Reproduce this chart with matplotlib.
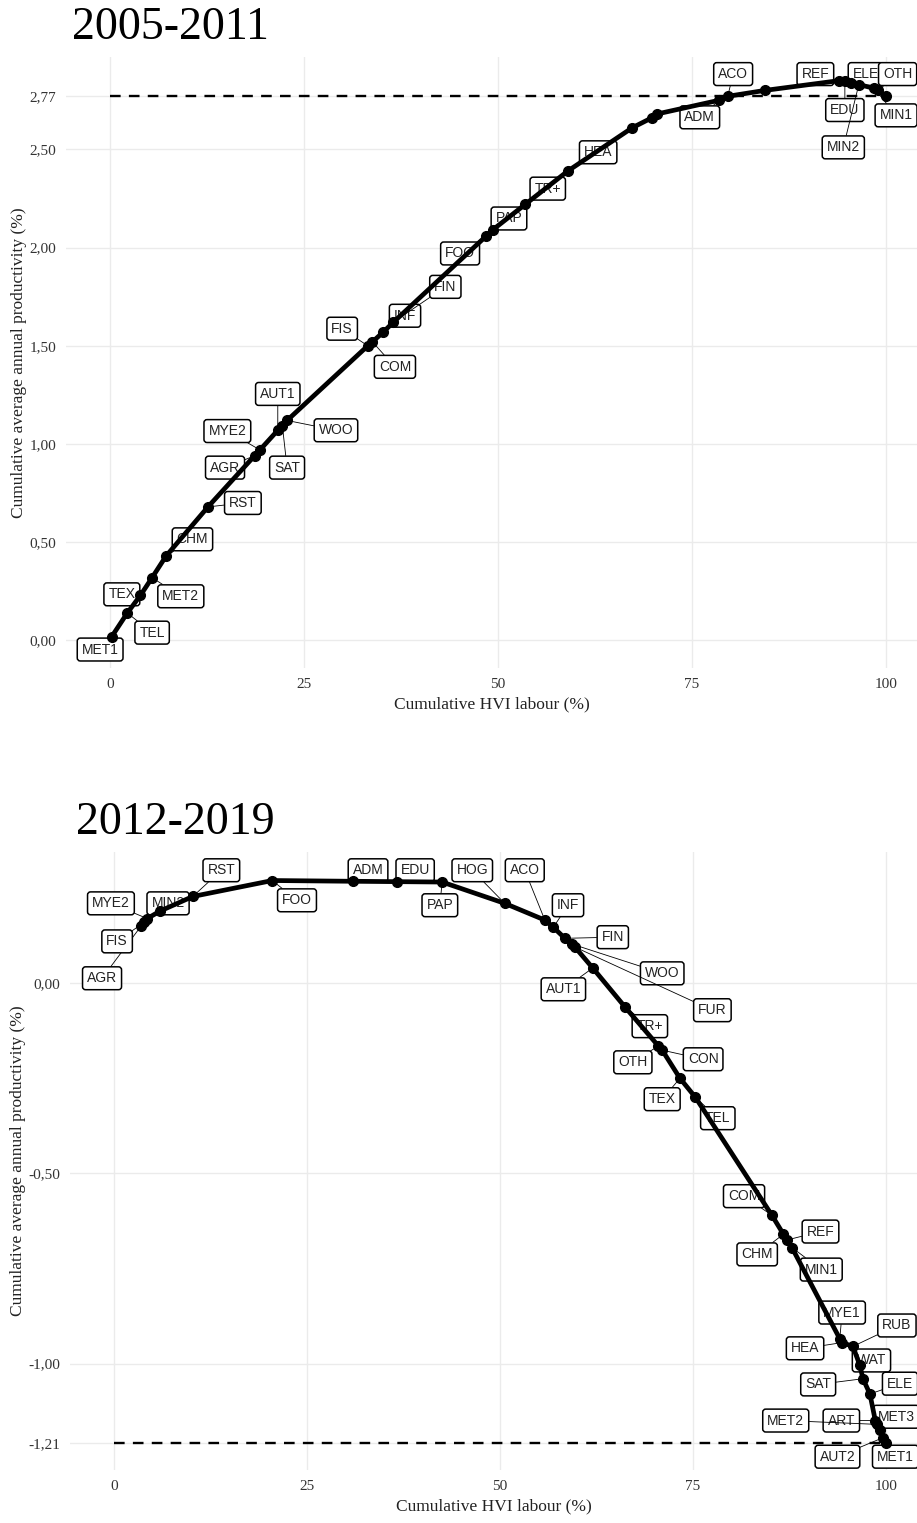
import matplotlib
matplotlib.use("Agg")
import matplotlib.pyplot as plt

# ---- 2005-2011 ----
top_x = [0.2, 2.2, 3.9, 5.4, 7.2, 12.6, 18.6, 19.3, 21.6, 22.2, 22.8, 33.2, 33.8, 35.2,
         36.5, 48.5, 49.3, 53.5, 59.0, 67.3, 69.8, 70.5, 78.5, 79.6, 84.4, 94.0,
         94.7, 95.5, 96.5, 98.5, 99.0, 100.0]
top_y = [0.02, 0.14, 0.23, 0.32, 0.43, 0.68, 0.94, 0.97, 1.07, 1.09, 1.12, 1.50, 1.52, 1.57,
         1.62, 2.06, 2.09, 2.22, 2.39, 2.61, 2.66, 2.68, 2.75, 2.77, 2.80, 2.85,
         2.85, 2.84, 2.83, 2.81, 2.80, 2.77]
top_lab = ["MET1", "TEL", "TEX", "MET2", "CHM", "RST", "AGR", "MYE2", "AUT1", "SAT", "WOO",
           "FIS", "COM", "INF", "FIN", "FOO", "PAP", "TR+", "HEA", "", "", "", "ADM", "ACO",
           "", "REF", "EDU", "ELE", "MIN2", "MIN1", "OTH", ""]
top_lab_x = [-1.3, 5.4, 1.5, 9.1, 10.6, 17.1, 14.8, 15.1, 21.6, 22.8, 29.1, 29.9, 36.7, 38.0,
             43.2, 45.1, 51.4, 56.4, 62.9, None, None, None, 76.0, 80.3, None, 90.9,
             94.7, 97.4, 94.5, 101.3, 101.5, None]
top_lab_y = [-0.046, 0.04, 0.235, 0.225, 0.515, 0.70, 0.88, 1.066, 1.255, 0.88, 1.07, 1.587,
             1.393, 1.653, 1.80, 1.97, 2.148, 2.30, 2.485, None, None, None, 2.663, 2.883,
             None, 2.883, 2.70, 2.883, 2.51, 2.673, 2.883, None]
top_yticks = [0.0, 0.5, 1.0, 1.5, 2.0, 2.5, 2.77]

# ---- 2012-2019 ----
bot_x = [3.5, 3.9, 4.3, 6.0, 10.2, 20.5, 31.0, 36.7, 42.5, 50.6, 55.8, 56.9, 58.4, 59.3,
         59.7, 62.0, 66.2, 70.5, 71.0, 73.3, 75.3, 85.2, 86.7, 87.2, 87.8, 94.0, 94.3,
         95.7, 96.6, 97.0, 97.9, 98.6, 98.8, 99.2, 99.6, 100.0]
bot_y = [0.150, 0.160, 0.170, 0.190, 0.228, 0.270, 0.268, 0.267, 0.266, 0.210, 0.166, 0.147,
         0.118, 0.103, 0.095, 0.040, -0.063, -0.165, -0.176, -0.250, -0.300, -0.610, -0.660,
         -0.675, -0.695, -0.935, -0.945, -0.955, -1.005, -1.040, -1.080, -1.150, -1.160,
         -1.175, -1.195, -1.210]
bot_lab = ["AGR", "FIS", "MYE2", "MIN2", "RST", "FOO", "ADM", "EDU", "PAP", "HOG", "ACO",
           "INF", "FIN", "WOO", "FUR", "AUT1", "TR+", "OTH", "CON", "TEX", "TEL", "COM",
           "CHM", "REF", "MIN1", "MYE1", "HEA", "RUB", "WAT", "SAT", "ELE", "ART", "MET2",
           "MET3", "AUT2", "MET1"]
bot_lab_x = [-1.55, 0.4, -0.4, 7.0, 13.9, 23.7, 32.9, 39.0, 42.2, 46.4, 53.2, 58.8, 64.6,
             71.0, 77.5, 58.2, 69.4, 67.2, 76.3, 71.0, 78.2, 81.6, 83.3, 91.5, 91.6, 94.3,
             89.5, 101.4, 98.1, 91.2, 101.8, 94.2, 87.0, 101.3, 93.7, 101.2]
bot_lab_y = [0.013, 0.11, 0.21, 0.21, 0.297, 0.218, 0.297, 0.297, 0.205, 0.297, 0.297, 0.205,
             0.121, 0.026, -0.071, -0.016, -0.113, -0.208, -0.2, -0.305, -0.355, -0.56,
             -0.713, -0.653, -0.753, -0.866, -0.96, -0.9, -0.992, -1.055, -1.053, -1.15,
             -1.15, -1.14, -1.245, -1.245]
bot_yticks = [0.0, -0.5, -1.0, -1.21]

SERIF = "Liberation Serif"
SANS = "Liberation Sans"


def draw_panel(ax, xs, ys, labels, lx, ly, yticks, ylim, title):
    ax.set_xlim(-5.7, 104)
    ax.set_ylim(*ylim)
    for s in ax.spines.values():
        s.set_visible(False)
    ax.set_xticks([0, 25, 50, 75, 100])
    ax.set_yticks(yticks)
    ax.set_yticklabels([f"{v:.2f}".replace(".", ",") for v in yticks])
    ax.tick_params(length=0, pad=7, labelsize=11, labelcolor="#333333")
    for t in ax.get_xticklabels() + ax.get_yticklabels():
        t.set_fontfamily(SERIF)
    ax.grid(True, color="#ebebeb", lw=1.0)
    ax.set_axisbelow(True)

    # final cumulative value
    ax.plot([0, 100], [ys[-1], ys[-1]], color="black", lw=1.7,
            linestyle=(0, (4.5, 3.5)), zorder=2)

    for x, y, lab, tx, ty in zip(xs, ys, labels, lx, ly):
        if not lab:
            continue
        ax.annotate(lab, xy=(x, y), xytext=(tx, ty), ha="center", va="center",
                    fontsize=10, fontfamily=SANS, color="#222222",
                    bbox=dict(boxstyle="round,pad=0.32,rounding_size=0.22",
                              fc="white", ec="black", lw=1.1),
                    arrowprops=dict(arrowstyle="-", lw=0.6, color="black",
                                    shrinkA=0, shrinkB=0),
                    annotation_clip=False, zorder=3)

    ax.plot(xs, ys, color="black", lw=3.4, zorder=4, solid_capstyle="round")
    ax.plot(xs, ys, "o", color="black", ms=7, zorder=5)

    ax.set_xlabel("Cumulative HVI labour (%)", fontfamily=SERIF, fontsize=12.5,
                  color="#222222", labelpad=4)
    ax.set_ylabel("Cumulative average annual productivity (%)", fontfamily=SERIF,
                  fontsize=12.5, color="#222222", labelpad=2)
    ax.set_title(title, fontfamily=SERIF, fontsize=33, loc="left", x=0.007, pad=13)


fig = plt.figure(figsize=(9.17, 15.23), dpi=100)
ax1 = fig.add_axes([66 / 917, 1 - 668 / 1523, (917 - 66) / 917, (668 - 57) / 1523])
ax2 = fig.add_axes([70 / 917, 1 - 1470 / 1523, (917 - 70) / 917, (1470 - 852) / 1523])

draw_panel(ax1, top_x, top_y, top_lab, top_lab_x, top_lab_y, top_yticks,
           (-0.14, 2.97), "2005-2011")
draw_panel(ax2, bot_x, bot_y, bot_lab, bot_lab_x, bot_lab_y, bot_yticks,
           (-1.28, 0.345), "2012-2019")

fig.savefig("out.png", dpi=100)
